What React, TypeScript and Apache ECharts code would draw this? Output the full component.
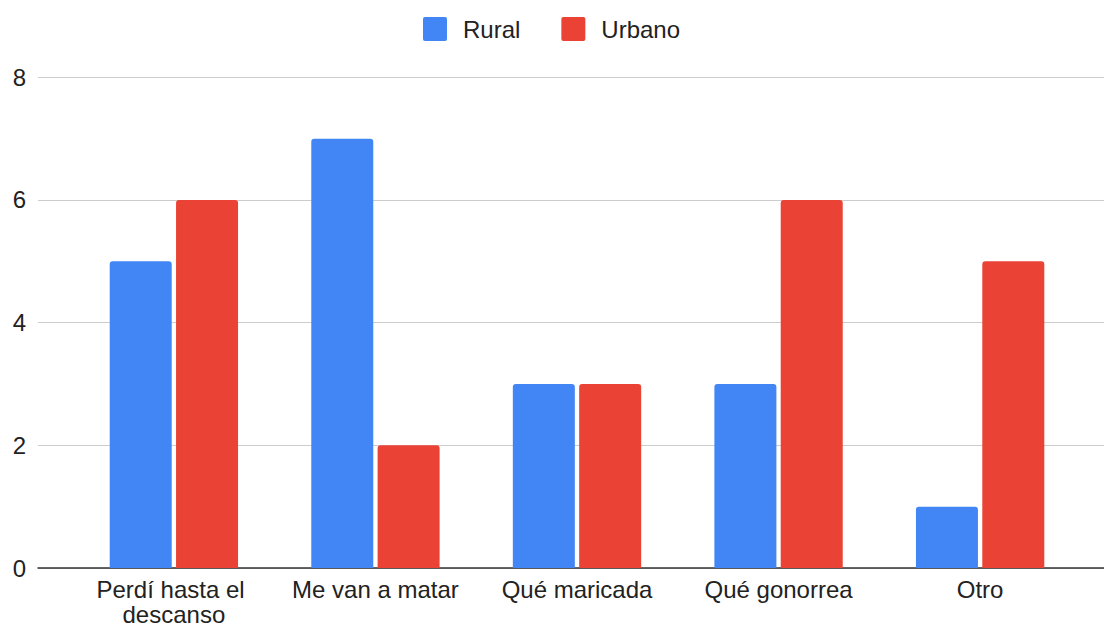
import React, { useEffect, useRef } from "react";
import * as echarts from "echarts";

const categories = ["Perdí hasta el descanso", "Me van a matar", "Qué maricada", "Qué gonorrea", "Otro"];
const ruralValues = [5, 7, 3, 3, 1];
const urbanoValues = [6, 2, 3, 6, 5];
const seriesNames = ["Rural", "Urbano"];
const seriesColors = ["#4285F4", "#EA4335"];

const FONT = "'Liberation Sans', Arial, sans-serif";
const TEXT = "#222222";
const SQUARE_ICON =
  "path://M2,0 H22 A2,2 0 0 1 24,2 V22 A2,2 0 0 1 22,24 H2 A2,2 0 0 1 0,22 V2 A2,2 0 0 1 2,0 Z";

export default function App() {
  const ref = useRef<HTMLDivElement>(null);
  useEffect(() => {
    document.body.style.margin = "0";
    const chart = echarts.init(ref.current!, null, { renderer: "svg" });
    chart.setOption({
      animation: false,
      backgroundColor: "#ffffff",
      textStyle: { fontFamily: FONT },
      legend: {
        data: seriesNames,
        left: 423,
        top: 17,
        padding: 0,
        icon: SQUARE_ICON,
        itemWidth: 24,
        itemHeight: 24,
        itemGap: 41,
        selectedMode: false,
        textStyle: { fontSize: 24, color: TEXT, fontFamily: FONT, padding: [0, 0, 0, 11] },
      },
      grid: [
        { left: 73.1, right: 23.1, top: 77.3, bottom: 55, outerBoundsMode: "none" },
        { left: 38, right: 0, top: 77.3, bottom: 55, outerBoundsMode: "none" },
      ],
      xAxis: [
        {
          type: "category",
          gridIndex: 0,
          data: categories,
          axisLine: { show: false },
          axisTick: { show: false },
          axisLabel: {
            fontSize: 24,
            color: TEXT,
            fontFamily: FONT,
            margin: 9,
            lineHeight: 25,
            width: 190,
            overflow: "break",
            interval: 0,
          },
        },
        {
          type: "value",
          gridIndex: 1,
          min: 0,
          max: 1,
          axisLine: { show: true, lineStyle: { color: "#333333", width: 1.5 } },
          axisTick: { show: false },
          axisLabel: { show: false },
          splitLine: { show: false },
        },
      ],
      yAxis: [
        { type: "value", gridIndex: 0, min: 0, max: 8, interval: 2, show: false },
        {
          type: "value",
          gridIndex: 1,
          min: 0,
          max: 8,
          interval: 2,
          axisLine: { show: false },
          axisTick: { show: false },
          axisLabel: { fontSize: 24, color: TEXT, fontFamily: FONT, margin: 12 },
          splitLine: { lineStyle: { color: "#cccccc", width: 1 } },
        },
      ],
      series: [
        {
          name: seriesNames[0],
          type: "bar",
          xAxisIndex: 0,
          yAxisIndex: 0,
          data: ruralValues,
          barWidth: 62,
          barGap: "7%",
          itemStyle: { color: seriesColors[0], borderRadius: [3, 3, 0, 0] },
        },
        {
          name: seriesNames[1],
          type: "bar",
          xAxisIndex: 0,
          yAxisIndex: 0,
          data: urbanoValues,
          barWidth: 62,
          barGap: "7%",
          itemStyle: { color: seriesColors[1], borderRadius: [3, 3, 0, 0] },
        },
      ],
    });
    return () => chart.dispose();
  }, []);
  return <div ref={ref} style={{ width: 1104, height: 623 }} />;
}
